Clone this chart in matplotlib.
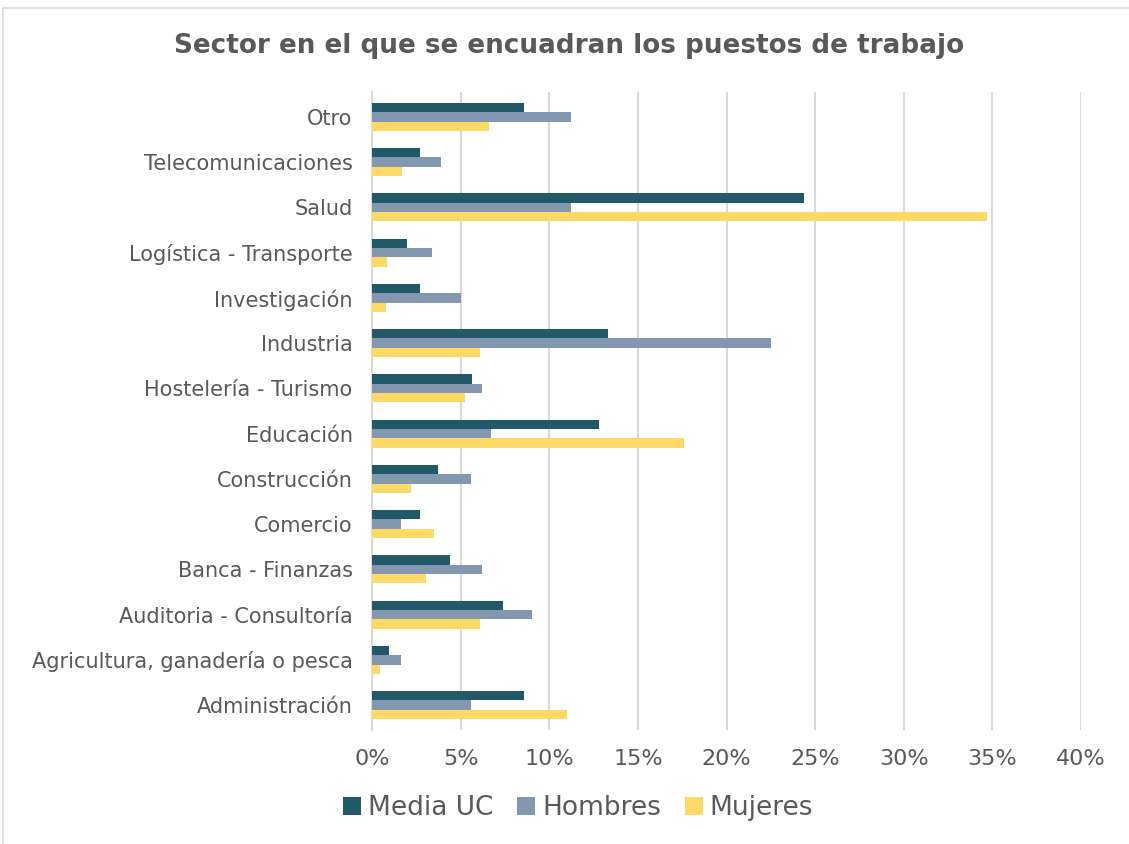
import matplotlib
matplotlib.use("Agg")
import matplotlib.pyplot as plt
import numpy as np
from matplotlib.patches import Rectangle
from matplotlib.ticker import FuncFormatter

categories = ["Administración", "Agricultura, ganadería o pesca", "Auditoria - Consultoría",
              "Banca - Finanzas", "Comercio", "Construcción", "Educación",
              "Hostelería - Turismo", "Industria", "Investigación",
              "Logística - Transporte", "Salud", "Telecomunicaciones", "Otro"]
media_uc = [8.6, 0.96, 7.4, 4.4, 2.7, 3.7, 12.8, 5.66, 13.3, 2.7, 2.0, 24.4, 2.7, 8.6]
hombres  = [5.6, 1.66, 9.0, 6.2, 1.66, 5.6, 6.7, 6.2, 22.5, 5.0, 3.4, 11.2, 3.9, 11.2]
mujeres  = [11.0, 0.43, 6.1, 3.07, 3.5, 2.2, 17.6, 5.25, 6.1, 0.8, 0.83, 34.7, 1.7, 6.6]
series_names = ["Media UC", "Hombres", "Mujeres"]
colors = ["#215968", "#8497B0", "#FFD966"]
xticks = [0, 5, 10, 15, 20, 25, 30, 35, 40]

txt = "#595959"
fig = plt.figure(figsize=(11.29, 8.44), dpi=100)
ax = fig.add_axes([372/1129, 1-730/844, (1081-372)/1129, (730-92)/844])

y = np.arange(len(categories))
w = 0.205
for vals, off, c, name in zip([media_uc, hombres, mujeres], [w, 0, -w], colors, series_names):
    ax.barh(y + off, vals, height=w, color=c, label=name, zorder=3)

ax.set_xlim(0, 40)
ax.set_ylim(-0.55, len(categories) - 0.45)
ax.set_xticks(xticks)
ax.xaxis.set_major_formatter(FuncFormatter(lambda v, p: f"{int(v)}%"))
ax.set_yticks(y)
ax.set_yticklabels(categories)
ax.tick_params(axis="y", length=0, labelsize=15, labelcolor=txt, pad=14)
ax.tick_params(axis="x", length=0, labelsize=16, labelcolor=txt, pad=14)
ax.grid(axis="x", color="#D9D9D9", linewidth=1.5, zorder=0)
for s in ["top", "right", "bottom"]:
    ax.spines[s].set_visible(False)
ax.spines["left"].set_color("#D9D9D9")
ax.spines["left"].set_linewidth(1.5)

fig.text(0.5 + 5/1129, 1-46/844, "Sector en el que se encuadran los puestos de trabajo",
         ha="center", va="center", fontsize=18.9, fontweight="bold", color=txt)

handles, labels = ax.get_legend_handles_labels()
fig.legend(handles, labels, loc="center", bbox_to_anchor=(0.512, 1-808/844), ncol=3,
           frameon=False, fontsize=19, labelcolor=txt, handlelength=0.7, handleheight=0.7,
           handletextpad=0.25, columnspacing=0.9)

fig.patches.append(Rectangle((3/1129, -0.1), 1.2, 1-8/844+0.1, transform=fig.transFigure,
                             fill=False, edgecolor="#D9D9D9", linewidth=1.2))

fig.savefig("out.png", dpi=100)
